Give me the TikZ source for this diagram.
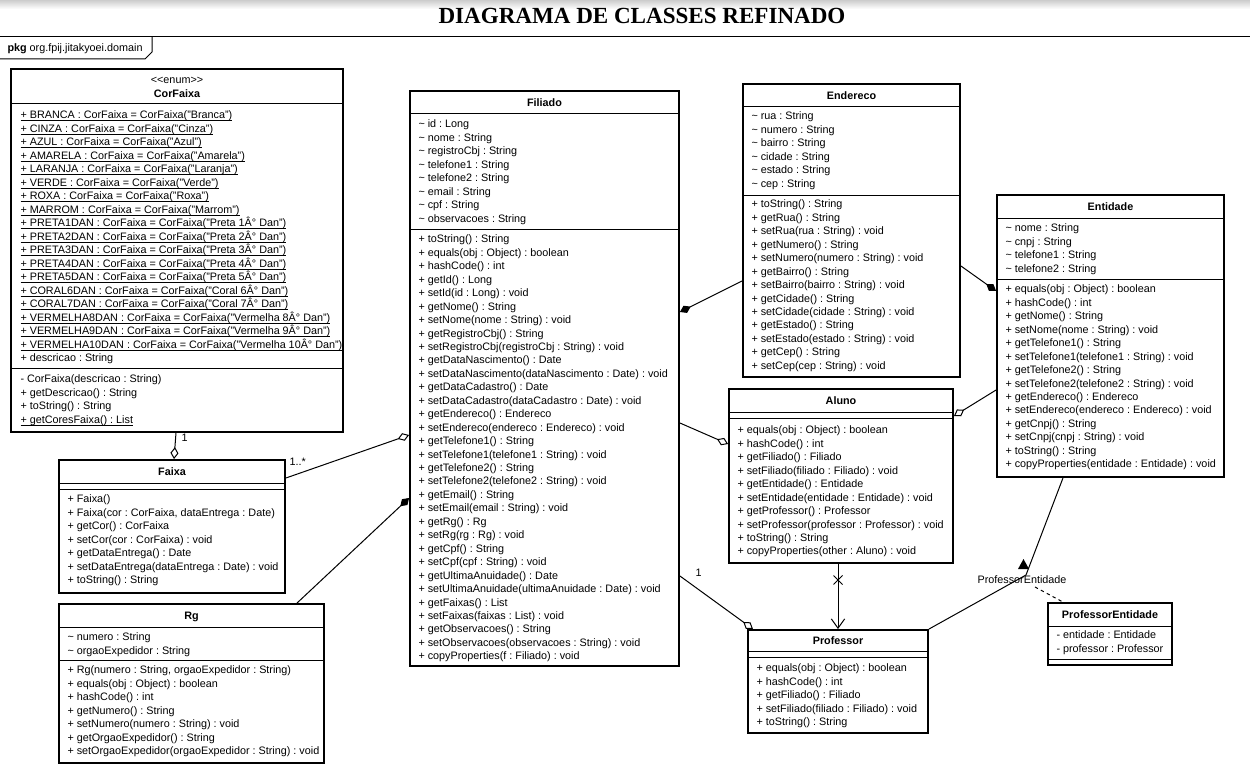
\documentclass[tikz,border=0pt]{standalone}
\usepackage{fontspec}
\setmainfont{Liberation Sans}
\newfontfamily\titlefont{Liberation Serif}
\usetikzlibrary{arrows.meta,fit,shapes.misc}

% underline that sits close to the baseline
\newcommand{\undl}[1]{\setbox0\hbox{#1}\rlap{\vrule height -1.1pt depth 1.85pt width \wd0}\box0}

\tikzset{every picture/.style={line width=0.75pt}}
\tikzset{
  classbox/.style={draw, line width=1.4pt, inner sep=0pt},
  member/.style={anchor=west, inner sep=0pt, font=\fontsize{8.1}{10}\selectfont, text height=5.8pt, text depth=0pt},
  classname/.style={member, anchor=center, font=\fontsize{8.1}{10}\selectfont\bfseries},
  agg/.style={-{Diamond[fill=white, length=9pt, width=6pt]}},
  comp/.style={-{Diamond[fill=black, length=9pt, width=6pt]}},
  nav/.style={-{Straight Barb[length=7pt, width=10pt]}},
}

\begin{document}
\frenchspacing
\begin{tikzpicture}[x=0.75pt,y=0.75pt,yscale=-1,xscale=1]
\useasboundingbox (0,0) rectangle (1250,774);
\fill [white] (0,0) rectangle (1250,774);
\shade [top color=gray!40, bottom color=white] (0,0) rectangle (1250,9);

% Text Node
\draw (642,16) node [font=\titlefont\bfseries\fontsize{17.3}{20}\selectfont] (title) {DIAGRAMA DE CLASSES REFINADO};

%Shape: Package frame
\draw (0,37) -- (1250,37);
\draw (0,59) -- (145,59) -- (152,52) -- (152,37);
% Text Node
\draw (7,48) node [member] (pkg) {\textbf{pkg} org.fpij.jitakyoei.domain};

%Shape: Rectangle [CorFaixa]
\node [classbox, fit={(11,69) (343,432)}] (corfaixa) {};
\draw (corfaixa.west |- 0,104) -- (corfaixa.east |- 0,104);
\draw (corfaixa.west |- 0,368) -- (corfaixa.east |- 0,368);
% Text Node
\draw (corfaixa.north |- 0,80) node [member, anchor=center] (cf-st) {<{}<enum>{}>};
\draw (corfaixa.north |- 0,94) node [classname] (cf-name) {CorFaixa};
\draw (20,115) node [member] (cf-a1) {\undl{+ BRANCA : CorFaixa = CorFaixa("Branca")}};
\draw (20,128.5) node [member] (cf-a2) {\undl{+ CINZA : CorFaixa = CorFaixa("Cinza")}};
\draw (20,142) node [member] (cf-a3) {\undl{+ AZUL : CorFaixa = CorFaixa("Azul")}};
\draw (20,155.5) node [member] (cf-a4) {\undl{+ AMARELA : CorFaixa = CorFaixa("Amarela")}};
\draw (20,169) node [member] (cf-a5) {\undl{+ LARANJA : CorFaixa = CorFaixa("Laranja")}};
\draw (20,182.5) node [member] (cf-a6) {\undl{+ VERDE : CorFaixa = CorFaixa("Verde")}};
\draw (20,196) node [member] (cf-a7) {\undl{+ ROXA : CorFaixa = CorFaixa("Roxa")}};
\draw (20,209.5) node [member] (cf-a8) {\undl{+ MARROM : CorFaixa = CorFaixa("Marrom")}};
\draw (20,223) node [member] (cf-a9) {\undl{+ PRETA1DAN : CorFaixa = CorFaixa("Preta 1Â° Dan")}};
\draw (20,236.5) node [member] (cf-a10) {\undl{+ PRETA2DAN : CorFaixa = CorFaixa("Preta 2Â° Dan")}};
\draw (20,250) node [member] (cf-a11) {\undl{+ PRETA3DAN : CorFaixa = CorFaixa("Preta 3Â° Dan")}};
\draw (20,263.5) node [member] (cf-a12) {\undl{+ PRETA4DAN : CorFaixa = CorFaixa("Preta 4Â° Dan")}};
\draw (20,277) node [member] (cf-a13) {\undl{+ PRETA5DAN : CorFaixa = CorFaixa("Preta 5Â° Dan")}};
\draw (20,290.5) node [member] (cf-a14) {\undl{+ CORAL6DAN : CorFaixa = CorFaixa("Coral 6Â° Dan")}};
\draw (20,304) node [member] (cf-a15) {\undl{+ CORAL7DAN : CorFaixa = CorFaixa("Coral 7Â° Dan")}};
\draw (20,317.5) node [member] (cf-a16) {\undl{+ VERMELHA8DAN : CorFaixa = CorFaixa("Vermelha 8Â° Dan")}};
\draw (20,331) node [member] (cf-a17) {\undl{+ VERMELHA9DAN : CorFaixa = CorFaixa("Vermelha 9Â° Dan")}};
\draw (20,344.5) node [member] (cf-a18) {\undl{+ VERMELHA10DAN : CorFaixa = CorFaixa("Vermelha 10Â° Dan")}};
\draw (20,358) node [member] (cf-a19) {+ descricao : String};
\draw (20,379) node [member] (cf-m1) {- CorFaixa(descricao : String)};
\draw (20,392.5) node [member] (cf-m2) {+ getDescricao() : String};
\draw (20,406) node [member] (cf-m3) {+ toString() : String};
\draw (20,419.5) node [member] (cf-m4) {\undl{+ getCoresFaixa() : List}};

%Shape: Rectangle [Faixa]
\node [classbox, fit={(59,460) (285,593)}] (faixa) {};
\draw (faixa.west |- 0,483) -- (faixa.east |- 0,483);
\draw (faixa.west |- 0,489) -- (faixa.east |- 0,489);
% Text Node
\draw (faixa.north |- 0,472) node [classname] (fx-name) {Faixa};
\draw (67,499) node [member] (fx-m1) {+ Faixa()};
\draw (67,512.5) node [member] (fx-m2) {+ Faixa(cor : CorFaixa, dataEntrega : Date)};
\draw (67,526) node [member] (fx-m3) {+ getCor() : CorFaixa};
\draw (67,539.5) node [member] (fx-m4) {+ setCor(cor : CorFaixa) : void};
\draw (67,553) node [member] (fx-m5) {+ getDataEntrega() : Date};
\draw (67,566.5) node [member] (fx-m6) {+ setDataEntrega(dataEntrega : Date) : void};
\draw (67,580) node [member] (fx-m7) {+ toString() : String};

%Shape: Rectangle [Rg]
\node [classbox, fit={(59,604) (324,763)}] (rg) {};
\draw (rg.west |- 0,627) -- (rg.east |- 0,627);
\draw (rg.west |- 0,660) -- (rg.east |- 0,660);
% Text Node
\draw (rg.north |- 0,616) node [classname] (rg-name) {Rg};
\draw (67,637) node [member] (rg-a1) {\textasciitilde{} numero : String};
\draw (67,650.5) node [member] (rg-a2) {\textasciitilde{} orgaoExpedidor : String};
\draw (67,670) node [member] (rg-m1) {+ Rg(numero : String, orgaoExpedidor : String)};
\draw (67,683.5) node [member] (rg-m2) {+ equals(obj : Object) : boolean};
\draw (67,697) node [member] (rg-m3) {+ hashCode() : int};
\draw (67,710.5) node [member] (rg-m4) {+ getNumero() : String};
\draw (67,724) node [member] (rg-m5) {+ setNumero(numero : String) : void};
\draw (67,737.5) node [member] (rg-m6) {+ getOrgaoExpedidor() : String};
\draw (67,751) node [member] (rg-m7) {+ setOrgaoExpedidor(orgaoExpedidor : String) : void};

%Shape: Rectangle [Filiado]
\node [classbox, fit={(410,91) (679,666)}] (filiado) {};
\draw (filiado.west |- 0,114) -- (filiado.east |- 0,114);
\draw (filiado.west |- 0,229) -- (filiado.east |- 0,229);
% Text Node
\draw (filiado.north |- 0,103) node [classname] (fi-name) {Filiado};
\draw (418,124) node [member] (fi-a1) {\textasciitilde{} id : Long};
\draw (418,137.5) node [member] (fi-a2) {\textasciitilde{} nome : String};
\draw (418,150.9) node [member] (fi-a3) {\textasciitilde{} registroCbj : String};
\draw (418,164.4) node [member] (fi-a4) {\textasciitilde{} telefone1 : String};
\draw (418,177.8) node [member] (fi-a5) {\textasciitilde{} telefone2 : String};
\draw (418,191.3) node [member] (fi-a6) {\textasciitilde{} email : String};
\draw (418,204.7) node [member] (fi-a7) {\textasciitilde{} cpf : String};
\draw (418,218.2) node [member] (fi-a8) {\textasciitilde{} observacoes : String};
\draw (418,239) node [member] (fi-m1) {+ toString() : String};
\draw (418,252.5) node [member] (fi-m2) {+ equals(obj : Object) : boolean};
\draw (418,265.9) node [member] (fi-m3) {+ hashCode() : int};
\draw (418,279.4) node [member] (fi-m4) {+ getId() : Long};
\draw (418,292.8) node [member] (fi-m5) {+ setId(id : Long) : void};
\draw (418,306.3) node [member] (fi-m6) {+ getNome() : String};
\draw (418,319.7) node [member] (fi-m7) {+ setNome(nome : String) : void};
\draw (418,333.2) node [member] (fi-m8) {+ getRegistroCbj() : String};
\draw (418,346.6) node [member] (fi-m9) {+ setRegistroCbj(registroCbj : String) : void};
\draw (418,360.1) node [member] (fi-m10) {+ getDataNascimento() : Date};
\draw (418,373.5) node [member] (fi-m11) {+ setDataNascimento(dataNascimento : Date) : void};
\draw (418,387) node [member] (fi-m12) {+ getDataCadastro() : Date};
\draw (418,400.4) node [member] (fi-m13) {+ setDataCadastro(dataCadastro : Date) : void};
\draw (418,413.9) node [member] (fi-m14) {+ getEndereco() : Endereco};
\draw (418,427.3) node [member] (fi-m15) {+ setEndereco(endereco : Endereco) : void};
\draw (418,440.8) node [member] (fi-m16) {+ getTelefone1() : String};
\draw (418,454.2) node [member] (fi-m17) {+ setTelefone1(telefone1 : String) : void};
\draw (418,467.7) node [member] (fi-m18) {+ getTelefone2() : String};
\draw (418,481.1) node [member] (fi-m19) {+ setTelefone2(telefone2 : String) : void};
\draw (418,494.6) node [member] (fi-m20) {+ getEmail() : String};
\draw (418,508) node [member] (fi-m21) {+ setEmail(email : String) : void};
\draw (418,521.5) node [member] (fi-m22) {+ getRg() : Rg};
\draw (418,534.9) node [member] (fi-m23) {+ setRg(rg : Rg) : void};
\draw (418,548.4) node [member] (fi-m24) {+ getCpf() : String};
\draw (418,561.8) node [member] (fi-m25) {+ setCpf(cpf : String) : void};
\draw (418,575.3) node [member] (fi-m26) {+ getUltimaAnuidade() : Date};
\draw (418,588.7) node [member] (fi-m27) {+ setUltimaAnuidade(ultimaAnuidade : Date) : void};
\draw (418,602.2) node [member] (fi-m28) {+ getFaixas() : List};
\draw (418,615.6) node [member] (fi-m29) {+ setFaixas(faixas : List) : void};
\draw (418,629.1) node [member] (fi-m30) {+ getObservacoes() : String};
\draw (418,642.5) node [member] (fi-m31) {+ setObservacoes(observacoes : String) : void};
\draw (418,656) node [member] (fi-m32) {+ copyProperties(f : Filiado) : void};

%Shape: Rectangle [Endereco]
\node [classbox, fit={(743,84) (960,377)}] (endereco) {};
\draw (endereco.west |- 0,107) -- (endereco.east |- 0,107);
\draw (endereco.west |- 0,195) -- (endereco.east |- 0,195);
% Text Node
\draw (endereco.north |- 0,96) node [classname] (en-name) {Endereco};
\draw (751,116) node [member] (en-a1) {\textasciitilde{} rua : String};
\draw (751,129.5) node [member] (en-a2) {\textasciitilde{} numero : String};
\draw (751,142.9) node [member] (en-a3) {\textasciitilde{} bairro : String};
\draw (751,156.4) node [member] (en-a4) {\textasciitilde{} cidade : String};
\draw (751,169.8) node [member] (en-a5) {\textasciitilde{} estado : String};
\draw (751,183.3) node [member] (en-a6) {\textasciitilde{} cep : String};
\draw (751,204) node [member] (en-m1) {+ toString() : String};
\draw (751,217.5) node [member] (en-m2) {+ getRua() : String};
\draw (751,230.9) node [member] (en-m3) {+ setRua(rua : String) : void};
\draw (751,244.4) node [member] (en-m4) {+ getNumero() : String};
\draw (751,257.8) node [member] (en-m5) {+ setNumero(numero : String) : void};
\draw (751,271.3) node [member] (en-m6) {+ getBairro() : String};
\draw (751,284.7) node [member] (en-m7) {+ setBairro(bairro : String) : void};
\draw (751,298.2) node [member] (en-m8) {+ getCidade() : String};
\draw (751,311.6) node [member] (en-m9) {+ setCidade(cidade : String) : void};
\draw (751,325.1) node [member] (en-m10) {+ getEstado() : String};
\draw (751,338.5) node [member] (en-m11) {+ setEstado(estado : String) : void};
\draw (751,352) node [member] (en-m12) {+ getCep() : String};
\draw (751,365.4) node [member] (en-m13) {+ setCep(cep : String) : void};

%Shape: Rectangle [Entidade]
\node [classbox, fit={(997,195) (1224,477)}] (entidade) {};
\draw (entidade.west |- 0,218) -- (entidade.east |- 0,218);
\draw (entidade.west |- 0,279) -- (entidade.east |- 0,279);
% Text Node
\draw (entidade.north |- 0,207) node [classname] (et-name) {Entidade};
\draw (1005,228) node [member] (et-a1) {\textasciitilde{} nome : String};
\draw (1005,241.5) node [member] (et-a2) {\textasciitilde{} cnpj : String};
\draw (1005,254.9) node [member] (et-a3) {\textasciitilde{} telefone1 : String};
\draw (1005,268.4) node [member] (et-a4) {\textasciitilde{} telefone2 : String};
\draw (1005,289) node [member] (et-m1) {+ equals(obj : Object) : boolean};
\draw (1005,302.5) node [member] (et-m2) {+ hashCode() : int};
\draw (1005,315.9) node [member] (et-m3) {+ getNome() : String};
\draw (1005,329.4) node [member] (et-m4) {+ setNome(nome : String) : void};
\draw (1005,342.8) node [member] (et-m5) {+ getTelefone1() : String};
\draw (1005,356.3) node [member] (et-m6) {+ setTelefone1(telefone1 : String) : void};
\draw (1005,369.7) node [member] (et-m7) {+ getTelefone2() : String};
\draw (1005,383.2) node [member] (et-m8) {+ setTelefone2(telefone2 : String) : void};
\draw (1005,396.6) node [member] (et-m9) {+ getEndereco() : Endereco};
\draw (1005,410.1) node [member] (et-m10) {+ setEndereco(endereco : Endereco) : void};
\draw (1005,423.5) node [member] (et-m11) {+ getCnpj() : String};
\draw (1005,437) node [member] (et-m12) {+ setCnpj(cnpj : String) : void};
\draw (1005,450.4) node [member] (et-m13) {+ toString() : String};
\draw (1005,463.9) node [member] (et-m14) {+ copyProperties(entidade : Entidade) : void};

%Shape: Rectangle [Aluno]
\node [classbox, fit={(729,389) (953,563)}] (aluno) {};
\draw (aluno.west |- 0,412) -- (aluno.east |- 0,412);
\draw (aluno.west |- 0,418) -- (aluno.east |- 0,418);
% Text Node
\draw (aluno.north |- 0,401) node [classname] (al-name) {Aluno};
\draw (737,430) node [member] (al-m1) {+ equals(obj : Object) : boolean};
\draw (737,443.5) node [member] (al-m2) {+ hashCode() : int};
\draw (737,456.9) node [member] (al-m3) {+ getFiliado() : Filiado};
\draw (737,470.4) node [member] (al-m4) {+ setFiliado(filiado : Filiado) : void};
\draw (737,483.8) node [member] (al-m5) {+ getEntidade() : Entidade};
\draw (737,497.3) node [member] (al-m6) {+ setEntidade(entidade : Entidade) : void};
\draw (737,510.7) node [member] (al-m7) {+ getProfessor() : Professor};
\draw (737,524.2) node [member] (al-m8) {+ setProfessor(professor : Professor) : void};
\draw (737,537.6) node [member] (al-m9) {+ toString() : String};
\draw (737,551.1) node [member] (al-m10) {+ copyProperties(other : Aluno) : void};

%Shape: Rectangle [Professor]
\node [classbox, fit={(748,630) (928,733)}] (professor) {};
\draw (professor.west |- 0,651) -- (professor.east |- 0,651);
\draw (professor.west |- 0,657) -- (professor.east |- 0,657);
% Text Node
\draw (professor.north |- 0,641) node [classname] (pr-name) {Professor};
\draw (756,668) node [member] (pr-m1) {+ equals(obj : Object) : boolean};
\draw (756,681.5) node [member] (pr-m2) {+ hashCode() : int};
\draw (756,694.9) node [member] (pr-m3) {+ getFiliado() : Filiado};
\draw (756,708.4) node [member] (pr-m4) {+ setFiliado(filiado : Filiado) : void};
\draw (756,721.8) node [member] (pr-m5) {+ toString() : String};

%Shape: Rectangle [ProfessorEntidade]
\node [classbox, fit={(1048,603) (1172,665)}] (profent) {};
\draw (profent.west |- 0,626) -- (profent.east |- 0,626);
\draw (profent.west |- 0,659) -- (profent.east |- 0,659);
% Text Node
\draw (profent.north |- 0,615) node [classname] (pe-name) {ProfessorEntidade};
\draw (1056,635) node [member] (pe-a1) {- entidade : Entidade};
\draw (1056,648.5) node [member] (pe-a2) {- professor : Professor};

%Straight Lines [CorFaixa - Faixa]
\draw [agg] (corfaixa.south -| 176,0) -- (faixa.north -| 174,0);
\draw (181,438) node [member] (cf-mult) {1};

%Straight Lines [Faixa - Filiado]
\draw [agg] (faixa.east |- 0,478) -- (filiado.west |- 0,435);
\draw (289,462) node [member] (fx-mult) {1..*};

%Straight Lines [Rg - Filiado]
\draw [comp] (rg.north -| 297,0) -- (filiado.west |- 0,498);

%Straight Lines [Endereco - Filiado]
\draw [comp] (endereco.west |- 0,281) -- (filiado.east |- 0,312);

%Straight Lines [Endereco - Entidade]
\draw [comp] (endereco.east |- 0,266) -- (entidade.west |- 0,291);

%Straight Lines [Filiado - Aluno]
\draw [agg] (filiado.east |- 0,423) -- (aluno.west |- 0,444);

%Straight Lines [Entidade - Aluno]
\draw [agg] (entidade.west |- 0,390) -- (aluno.east |- 0,416);

%Straight Lines [Filiado - Professor]
\draw [agg] (filiado.east |- 0,576) -- (professor.north -| 753,0);
\draw (695,573) node [member] (pr-mult) {1};

%Straight Lines [Aluno - Professor]
\draw [nav] (aluno.south -| professor.north) -- (professor.north);
\node [cross out, draw, minimum size=6pt, inner sep=0pt] (xmark) at (838,580) {};

%Straight Lines [Professor - Entidade]
\coordinate (pe-bend) at (1026,575);
\draw (professor.north east) -- (pe-bend) -- (entidade.south -| 1063,0);
\fill (1018,569) -- (1029,569) -- (1023.5,559) -- cycle;
\draw (1022,580) node [member, anchor=center] (pe-label) {ProfessorEntidade};
\coordinate (pe-link) at (1035,587);
\draw [dash pattern=on 2.5pt off 2.5pt] (pe-link) -- (profent.north -| 1063,0);

\end{tikzpicture}
\end{document}
